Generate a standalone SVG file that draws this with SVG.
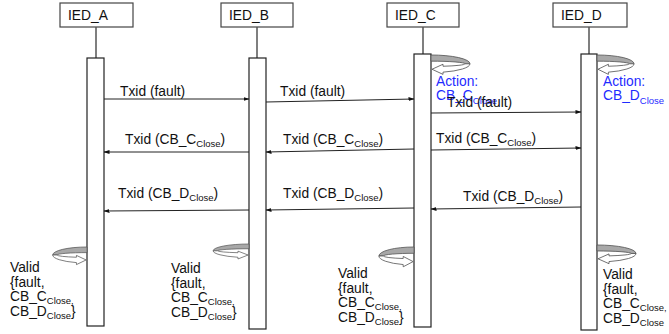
<svg xmlns="http://www.w3.org/2000/svg" width="669" height="334" viewBox="0 0 669 334">
<style>
text{font-family:"Liberation Sans",Arial,sans-serif;font-size:13.8px;fill:#111}
.sub{font-size:9.5px}
.blue{fill:#1f2bff}
.box{fill:#fff;stroke:#444;stroke-width:1.2}
.life{stroke:#555;stroke-width:1.5}
.bar{fill:#fff;stroke:#222;stroke-width:1.2}
.msg{stroke:#222;stroke-width:1;fill:none;marker-end:url(#ah)}
.back{fill:#a8a8a8;stroke:#555;stroke-width:0.9}
.front{fill:#fff;stroke:#555;stroke-width:0.9}
</style>
<defs>
<marker id="ah" markerWidth="6" markerHeight="5" refX="5.5" refY="2.5" orient="auto" markerUnits="userSpaceOnUse">
<path d="M0,0.5 L6,2.5 L0,4.5 z" fill="#111"/>
</marker>
<g id="curl">
<path class="back" d="M0,0 A39,10 0 0 1 39,10 L34,10 A34,3 0 0 0 0,7 Z"/>
<path class="front" d="M39,10 A39,10 0 0 1 12,19.5 L12,22 L1,16.2 L12,10.5 L12,12.8 A34,3 0 0 0 34,10 Z"/>
</g>
</defs>

<g id="IED_A">
<rect class="box" x="60" y="3" width="73" height="24"/>
<text x="68" y="20">IED_A</text>
<line class="life" x1="96" y1="27" x2="96" y2="58"/>
<rect class="bar" x="87" y="58" width="17" height="268"/>
<use href="#curl" transform="translate(87,247) scale(-0.88,0.8)"/>
<text x="10" y="272">Valid</text>
<text x="10" y="286.5">{fault,</text>
<text x="10" y="301">CB_C<tspan class="sub" dy="3">Close,</tspan></text>
<text x="10" y="315.5">CB_D<tspan class="sub" dy="3">Close</tspan><tspan dy="-3">}</tspan></text>
</g>

<g id="IED_B">
<rect class="box" x="221" y="3" width="72" height="24"/>
<text x="229" y="20">IED_B</text>
<line class="life" x1="257" y1="27" x2="257" y2="58"/>
<rect class="bar" x="249" y="58" width="17" height="271"/>
<use href="#curl" transform="translate(249,244) scale(-0.92,0.68)"/>
<text x="171" y="273">Valid</text>
<text x="171" y="287.5">{fault,</text>
<text x="171" y="302">CB_C<tspan class="sub" dy="3">Close,</tspan></text>
<text x="171" y="316.5">CB_D<tspan class="sub" dy="3">Close</tspan><tspan dy="-3">}</tspan></text>
</g>

<g id="IED_C">
<rect class="box" x="387" y="3" width="72" height="24"/>
<text x="395" y="20">IED_C</text>
<line class="life" x1="423" y1="27" x2="423" y2="54"/>
<rect class="bar" x="414" y="54" width="17" height="273"/>
<use href="#curl" transform="translate(431,55) scale(1,0.88)"/>
<text class="blue" x="436" y="86">Action:</text>
<text class="blue" x="436" y="100">CB_C<tspan class="sub blue" dy="4">Close</tspan></text>
<use href="#curl" transform="translate(414,247) scale(-0.9,0.9)"/>
<text x="338" y="278">Valid</text>
<text x="338" y="292.5">{fault,</text>
<text x="338" y="307">CB_C<tspan class="sub" dy="3">Close,</tspan></text>
<text x="338" y="321.5">CB_D<tspan class="sub" dy="3">Close</tspan><tspan dy="-3">}</tspan></text>
</g>

<g id="IED_D">
<rect class="box" x="553" y="3" width="74" height="24"/>
<text x="561" y="20">IED_D</text>
<line class="life" x1="589" y1="27" x2="589" y2="54"/>
<rect class="bar" x="581" y="54" width="16" height="276"/>
<use href="#curl" transform="translate(597,55) scale(0.95,0.88)"/>
<text class="blue" x="603" y="86">Action:</text>
<text class="blue" x="603" y="100">CB_D<tspan class="sub blue" dy="4">Close</tspan></text>
<use href="#curl" transform="translate(597,245) scale(1,0.85)"/>
<text x="603" y="279">Valid</text>
<text x="603" y="293.5">{fault,</text>
<text x="603" y="308">CB_C<tspan class="sub" dy="3">Close,</tspan></text>
<text x="603" y="322.5">CB_D<tspan class="sub" dy="3">Close</tspan></text>
</g>

<g id="connectors">
<line class="msg" x1="104" y1="99" x2="249" y2="99"/>
<line class="msg" x1="266" y1="102" x2="414" y2="99"/>
<line class="msg" x1="431" y1="113" x2="581" y2="112"/>
<line class="msg" x1="249" y1="152" x2="104" y2="152"/>
<line class="msg" x1="414" y1="149" x2="266" y2="152"/>
<line class="msg" x1="431" y1="150" x2="581" y2="148"/>
<line class="msg" x1="249" y1="210" x2="104" y2="211"/>
<line class="msg" x1="414" y1="208" x2="266" y2="210"/>
<line class="msg" x1="581" y1="207" x2="431" y2="209"/>
<text x="120" y="96">Txid (fault)</text>
<text x="280" y="96">Txid (fault)</text>
<text x="447" y="107">Txid (fault)</text>
<text x="125" y="144">Txid (CB_C<tspan class="sub" dy="3">Close</tspan><tspan dy="-3">)</tspan></text>
<text x="283" y="144">Txid (CB_C<tspan class="sub" dy="3">Close</tspan><tspan dy="-3">)</tspan></text>
<text x="436" y="143">Txid (CB_C<tspan class="sub" dy="3">Close</tspan><tspan dy="-3">)</tspan></text>
<text x="118" y="198">Txid (CB_D<tspan class="sub" dy="3">Close</tspan><tspan dy="-3">)</tspan></text>
<text x="283" y="198">Txid (CB_D<tspan class="sub" dy="3">Close</tspan><tspan dy="-3">)</tspan></text>
<text x="463" y="201">Txid (CB_D<tspan class="sub" dy="3">Close</tspan><tspan dy="-3">)</tspan></text>
</g>
</svg>
